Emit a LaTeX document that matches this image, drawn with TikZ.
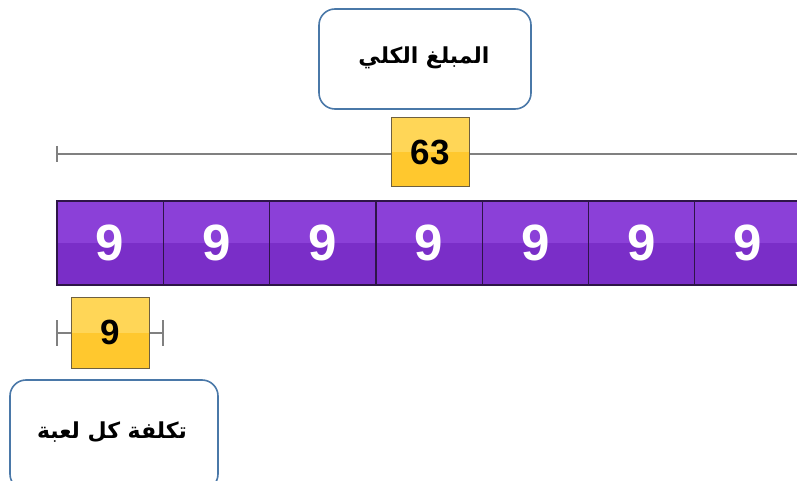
\documentclass[tikz,border=0pt]{standalone}
\usepackage{fontspec}
\setmainfont{Liberation Sans}
\newfontfamily\arabicfont[Script=Arabic]{DejaVu Sans}
\TeXXeTstate=1
\definecolor{boxblue}{HTML}{4A78A8}
\definecolor{ylwtop}{HTML}{FFD657}
\definecolor{ylwbot}{HTML}{FFC82E}
\definecolor{ylwedge}{HTML}{6E6040}
\definecolor{purtop}{HTML}{8B40D8}
\definecolor{purbot}{HTML}{7A2EC8}
\definecolor{puredge}{HTML}{2E1548}
\definecolor{linegray}{HTML}{808080}
\begin{document}
\begin{tikzpicture}[x=1pt,y=-1pt,
  labelbox/.style={draw=boxblue, line width=1.6pt, rounded corners=16pt, fill=white, inner sep=0pt},
  ylwbox/.style={draw=ylwedge, line width=1pt, fill=ylwbot, inner sep=0pt,
    path picture={\fill[ylwtop] (path picture bounding box.north west) rectangle (path picture bounding box.east);},
    font=\bfseries\fontsize{35}{35}\selectfont},
  cell/.style={draw=puredge, line width=1.3pt, fill=purbot, inner sep=0pt, minimum width=106.3pt, minimum height=84pt,
    path picture={\fill[purtop] (path picture bounding box.north west) rectangle (path picture bounding box.east);},
    text=white, font=\bfseries\fontsize{51}{51}\selectfont},
  gline/.style={draw=linegray, line width=1.5pt},
  arab/.style={font=\arabicfont\bfseries\fontsize{22}{26}\selectfont}
]
\useasboundingbox (0,0) rectangle (797,481);
\begin{scope}
\clip (0,0) rectangle (797,481);
% top label
\node[labelbox, minimum width=212pt, minimum height=100pt] (total) at (425,59) {};
\node[arab] (totaltxt) at (424,58) {\beginR المبلغ الكلي\endR};
% long line
\coordinate (L0) at (57,154);
\coordinate (L1) at (800,154);
\draw[gline] (L0) -- (L1);
\draw[gline] (57,146) -- (57,162);
\node[ylwbox, minimum width=78pt, minimum height=69pt] (b63) at (430,152.5) {63};
% purple bar
\foreach \i in {0,...,6}{
  \node[cell] (c\i) at ({57+106.3*\i+53.15},243) {9};
}
% small line
\coordinate (S0) at (57,333);
\coordinate (S1) at (163,333);
\draw[gline] (S0) -- (S1);
\draw[gline] (57,320) -- (57,346);
\draw[gline] (163,320) -- (163,346);
\node[ylwbox, minimum width=78pt, minimum height=71pt] (b9) at (110,332.5) {9};
% bottom label
\node[labelbox, minimum width=208pt, minimum height=110pt] (each) at (114,435) {};
\node[arab] (eachtxt) at (112,432) {\beginR تكلفة كل لعبة\endR};
\end{scope}
\end{tikzpicture}
\end{document}
